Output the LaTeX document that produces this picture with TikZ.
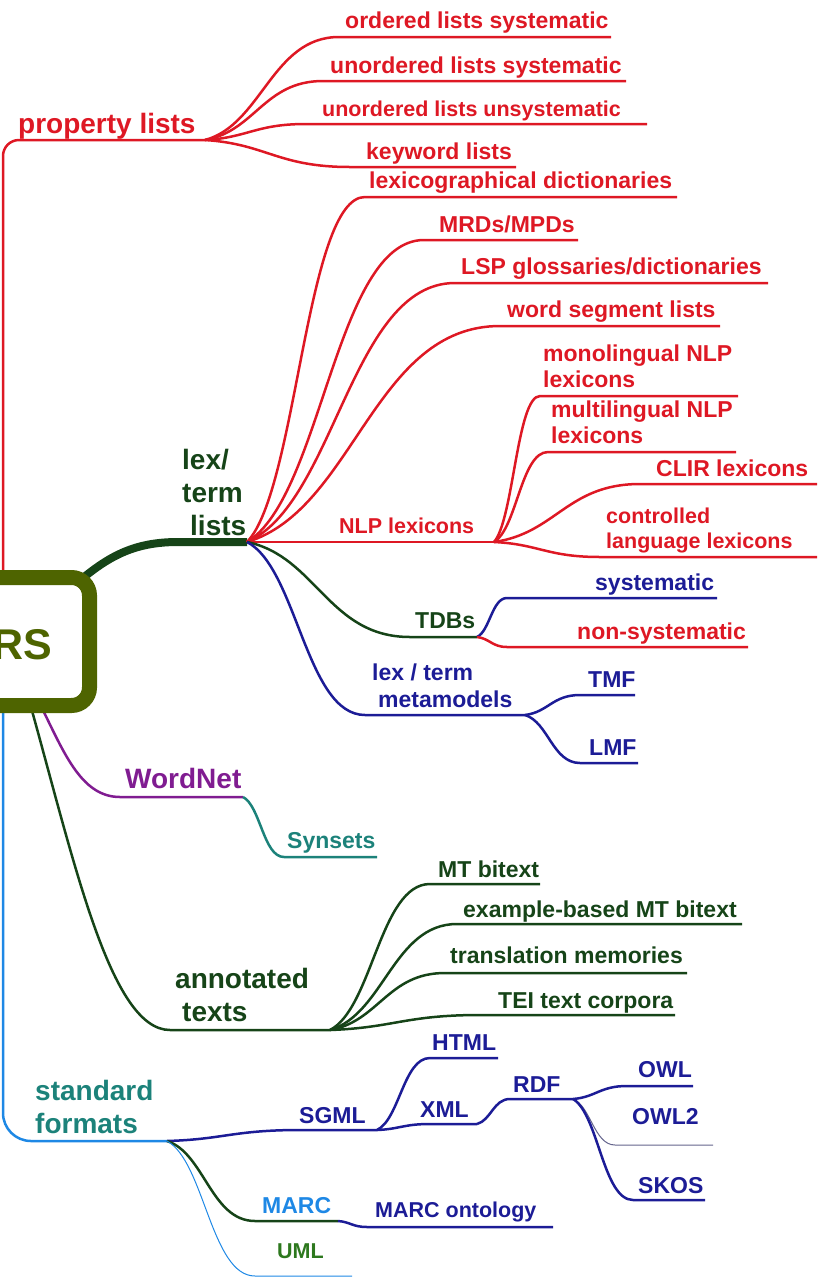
\documentclass[tikz,border=0pt]{standalone}
\usepackage{fontspec}
\setmainfont{Liberation Sans}
\usetikzlibrary{calc}

\definecolor{mmred}{RGB}{222,24,36}
\definecolor{mmgreen}{RGB}{22,68,24}
\definecolor{mmnavy}{RGB}{28,28,150}
\definecolor{mmpurple}{RGB}{128,28,145}
\definecolor{mmteal}{RGB}{28,130,122}
\definecolor{mmblue}{RGB}{30,136,229}
\definecolor{mmolive}{RGB}{78,100,0}
\definecolor{mmleaf}{RGB}{45,120,30}
\definecolor{mmgray}{RGB}{100,100,140}

\tikzset{
  twig/.style={to path={.. controls ($(\tikztostart)!0.5!(\tikztotarget|-\tikztostart)!0.15!(\tikztostart|-\tikztotarget)$) and ($(\tikztotarget)!0.5!(\tikztostart|-\tikztotarget)$) .. (\tikztotarget)}},
  stem/.style={line width=2.5},
  big/.style={anchor=base west, inner sep=0pt, align=left, font=\bfseries\fontsize{28}{33}\selectfont},
  mid/.style={anchor=base west, inner sep=0pt, align=left, font=\bfseries\fontsize{23}{26}\selectfont},
  sml/.style={anchor=base west, inner sep=0pt, align=left, font=\bfseries\fontsize{21.5}{25}\selectfont},
}

\begin{document}
\begin{tikzpicture}[x=1pt,y=1pt,yscale=-1,xscale=1]
        \useasboundingbox (0,0) rectangle (817,1283);
        \clip (0,0) rectangle (817,1283);
        % stems leaving the root box
        \coordinate (root-pl) at (3,600);
        \coordinate (root-lt) at (78,582);
        \coordinate (root-wn) at (38,700);
        \coordinate (root-at) at (29,700);
        \coordinate (root-sf) at (3,690);
        % property lists
        \coordinate (pl-j) at (205,140);
        \draw [stem,mmred,rounded corners=16] (root-pl) |- (pl-j);
        \node [big,mmred] (pl) at (18,133) {property lists};
        \coordinate (ols-s) at (339,37); \coordinate (ols-e) at (611,37);
        \draw [stem,mmred] (pl-j) to[twig] (ols-s) -- (ols-e);
        \node [mid,mmred] (ols) at (345,28) {ordered lists systematic};
        \coordinate (uls-s) at (323,81); \coordinate (uls-e) at (626,81);
        \draw [stem,mmred] (pl-j) to[twig] (uls-s) -- (uls-e);
        \node [mid,mmred] (uls) at (330,73) {unordered lists systematic};
        \coordinate (ulu-s) at (306,124); \coordinate (ulu-e) at (647,124);
        \draw [stem,mmred] (pl-j) to[twig] (ulu-s) -- (ulu-e);
        \node [sml,mmred] (ulu) at (322,116) {unordered lists unsystematic};
        \coordinate (kwl-s) at (350,167); \coordinate (kwl-e) at (516,167);
        \draw [stem,mmred] (pl-j) to[twig] (kwl-s) -- (kwl-e);
        \node [mid,mmred] (kwl) at (366,159) {keyword lists};
        % lex/term lists
        \coordinate (lt-s) at (178,542); \coordinate (lt-j) at (247,542);
        \draw [line width=8,mmgreen] (root-lt) .. controls +(30,-25) and +(-45,0) .. (lt-s) -- (lt-j);
        \node [big,mmgreen] (lt) at (182,535) {lex/\\term\\\hspace*{8pt}lists};
        \coordinate (lexd-s) at (365,197); \coordinate (lexd-e) at (677,197);
        \draw [stem,mmred] (lt-j) to[twig] (lexd-s) -- (lexd-e);
        \node [mid,mmred] (lexd) at (369,188) {lexicographical dictionaries};
        \coordinate (mrd-s) at (424,240); \coordinate (mrd-e) at (578,240);
        \draw [stem,mmred] (lt-j) to[twig] (mrd-s) -- (mrd-e);
        \node [mid,mmred] (mrd) at (439,232) {MRDs/MPDs};
        \coordinate (lsp-s) at (455,283); \coordinate (lsp-e) at (768,283);
        \draw [stem,mmred] (lt-j) to[twig] (lsp-s) -- (lsp-e);
        \node [mid,mmred] (lsp) at (461,274) {LSP glossaries/dictionaries};
        \coordinate (wsl-s) at (500,326); \coordinate (wsl-e) at (720,326);
        \draw [stem,mmred] (lt-j) to[twig] (wsl-s) -- (wsl-e);
        \node [mid,mmred] (wsl) at (507,317) {word segment lists};
        % NLP lexicons
        \coordinate (nlp-j) at (494,542);
        \draw [stem,mmred] (lt-j) -- (nlp-j);
        \node [sml,mmred] (nlp) at (339,533) {NLP lexicons};
        \coordinate (mono-s) at (540,396); \coordinate (mono-e) at (738,396);
        \draw [stem,mmred] (nlp-j) to[twig] (mono-s) -- (mono-e);
        \node [mid,mmred] (mono) at (543,387) {monolingual NLP\\lexicons};
        \coordinate (multi-s) at (548,452); \coordinate (multi-e) at (736,452);
        \draw [stem,mmred] (nlp-j) to[twig] (multi-s) -- (multi-e);
        \node [mid,mmred] (multi) at (551,443) {multilingual NLP\\lexicons};
        \coordinate (clir-s) at (640,484); \coordinate (clir-e) at (820,484);
        \draw [stem,mmred] (nlp-j) to[twig] (clir-s) -- (clir-e);
        \node [mid,mmred] (clir) at (656,476) {CLIR lexicons};
        \coordinate (ctrl-s) at (600,557); \coordinate (ctrl-e) at (820,557);
        \draw [stem,mmred] (nlp-j) to[twig] (ctrl-s) -- (ctrl-e);
        \node [sml,mmred] (ctrl) at (606,548) {controlled\\language lexicons};
        % TDBs
        \coordinate (tdb-s) at (410,637); \coordinate (tdb-j) at (477,637);
        \draw [stem,mmgreen] (lt-j) to[twig] (tdb-s) -- (tdb-j);
        \node [mid,mmgreen] (tdb) at (415,628) {TDBs};
        \coordinate (sys-s) at (507,598); \coordinate (sys-e) at (717,598);
        \draw [stem,mmnavy] (tdb-j) to[twig] (sys-s) -- (sys-e);
        \node [mid,mmnavy] (sys) at (595,590) {systematic};
        \coordinate (nsys-s) at (507,647); \coordinate (nsys-e) at (748,647);
        \draw [stem,mmred] (tdb-j) to[twig] (nsys-s) -- (nsys-e);
        \node [mid,mmred] (nsys) at (577,639) {non-systematic};
        % lex / term metamodels
        \coordinate (ltm-s) at (365,715); \coordinate (ltm-j) at (525,715);
        \draw [stem,mmnavy] (lt-j) to[twig] (ltm-s) -- (ltm-j);
        \node [mid,mmnavy,font=\bfseries\fontsize{23}{27}\selectfont] (ltm) at (372,707) {lex / term\\\hspace*{6pt}metamodels};
        \coordinate (tmf-s) at (580,695); \coordinate (tmf-e) at (635,695);
        \draw [stem,mmnavy] (ltm-j) to[twig] (tmf-s) -- (tmf-e);
        \node [mid,mmnavy] (tmf) at (588,687) {TMF};
        \coordinate (lmf-s) at (580,763); \coordinate (lmf-e) at (638,763);
        \draw [stem,mmnavy] (ltm-j) to[twig] (lmf-s) -- (lmf-e);
        \node [mid,mmnavy] (lmf) at (589,755) {LMF};
        % WordNet
        \coordinate (wn-s) at (120,797); \coordinate (wn-j) at (243,797);
        \draw [stem,mmpurple] (root-wn) .. controls +(25,50) and +(-40,0) .. (wn-s) -- (wn-j);
        \node [big,mmpurple] (wn) at (125,788) {WordNet};
        \coordinate (syn-s) at (284,857); \coordinate (syn-e) at (377,857);
        \draw [stem,mmteal] (wn-j) to[twig] (syn-s) -- (syn-e);
        \node [mid,mmteal] (syn) at (287,848) {Synsets};
        % annotated texts
        \coordinate (at-s) at (170,1030); \coordinate (at-j) at (330,1030);
        \draw [stem,mmgreen] (root-at) .. controls +(45,160) and +(-60,0) .. (at-s) -- (at-j);
        \node [big,mmgreen] (at) at (175,1021) {annotated\\\hspace*{7pt}texts};
        \coordinate (mtb-s) at (430,884); \coordinate (mtb-e) at (540,884);
        \draw [stem,mmgreen] (at-j) to[twig] (mtb-s) -- (mtb-e);
        \node [mid,mmgreen] (mtb) at (438,877) {MT bitext};
        \coordinate (ebm-s) at (457,924); \coordinate (ebm-e) at (742,924);
        \draw [stem,mmgreen] (at-j) to[twig] (ebm-s) -- (ebm-e);
        \node [mid,mmgreen] (ebm) at (463,917) {example-based MT bitext};
        \coordinate (trm-s) at (445,973); \coordinate (trm-e) at (687,973);
        \draw [stem,mmgreen] (at-j) to[twig] (trm-s) -- (trm-e);
        \node [mid,mmgreen] (trm) at (450,963) {translation memories};
        \coordinate (tei-s) at (480,1015); \coordinate (tei-e) at (675,1015);
        \draw [stem,mmgreen] (at-j) to[twig] (tei-s) -- (tei-e);
        \node [mid,mmgreen] (tei) at (498,1008) {TEI text corpora};
        % standard formats
        \coordinate (sf-j) at (167,1141);
        \draw [stem,mmblue,rounded corners=28] (root-sf) |- (sf-j);
        \node [big,mmteal] (sf) at (35,1133) {standard\\formats};
        \coordinate (sgml-s) at (300,1130); \coordinate (sgml-j) at (377,1130);
        \draw [stem,mmnavy] (sf-j) to[twig] (sgml-s) -- (sgml-j);
        \node [mid,mmnavy] (sgml) at (299,1123) {SGML};
        \coordinate (html-s) at (430,1058); \coordinate (html-e) at (498,1058);
        \draw [stem,mmnavy] (sgml-j) to[twig] (html-s) -- (html-e);
        \node [mid,mmnavy] (html) at (432,1050) {HTML};
        \coordinate (xml-s) at (430,1124); \coordinate (xml-j) at (477,1124);
        \draw [stem,mmnavy] (sgml-j) to[twig] (xml-s) -- (xml-j);
        \node [mid,mmnavy] (xml) at (420,1117) {XML};
        \coordinate (rdf-s) at (510,1099); \coordinate (rdf-j) at (573,1099);
        \draw [stem,mmnavy] (xml-j) to[twig] (rdf-s) -- (rdf-j);
        \node [mid,mmnavy] (rdf) at (513,1092) {RDF};
        \coordinate (owl-s) at (627,1086); \coordinate (owl-e) at (693,1086);
        \draw [stem,mmnavy] (rdf-j) to[twig] (owl-s) -- (owl-e);
        \node [mid,mmnavy] (owl) at (638,1077) {OWL};
        \coordinate (owl2-s) at (615,1145); \coordinate (owl2-e) at (713,1145);
        \draw [line width=1,mmgray] (rdf-j) to[twig] (owl2-s) -- (owl2-e);
        \node [mid,mmnavy] (owl2) at (632,1124) {OWL2};
        \coordinate (skos-s) at (633,1200); \coordinate (skos-e) at (705,1200);
        \draw [stem,mmnavy] (rdf-j) to[twig] (skos-s) -- (skos-e);
        \node [mid,mmnavy] (skos) at (638,1193) {SKOS};
        \coordinate (marc-s) at (255,1221); \coordinate (marc-j) at (338,1221);
        \draw [stem,mmgreen] (sf-j) to[twig] (marc-s) -- (marc-j);
        \node [mid,mmblue] (marc) at (262,1213) {MARC};
        \coordinate (mo-s) at (367,1227); \coordinate (mo-e) at (553,1227);
        \draw [stem,mmnavy] (marc-j) to[twig] (mo-s) -- (mo-e);
        \node [sml,mmnavy] (mo) at (375,1217) {MARC ontology};
        \coordinate (uml-s) at (255,1276); \coordinate (uml-e) at (352,1276);
        \draw [line width=1,mmblue] (sf-j) to[twig] (uml-s) -- (uml-e);
        \node [sml,mmleaf] (uml) at (277,1258) {UML};
        % root box
        \node [draw=mmolive,line width=15,rounded corners=18,fill=white,minimum width=240,minimum height=128,anchor=east,inner sep=0pt] (root) at (97,641.5) {};
        \node [anchor=base east,inner sep=0pt,text=mmolive,font=\bfseries\fontsize{43}{43}\selectfont] (rs) at (52,659) {RS};
\end{tikzpicture}
\end{document}
